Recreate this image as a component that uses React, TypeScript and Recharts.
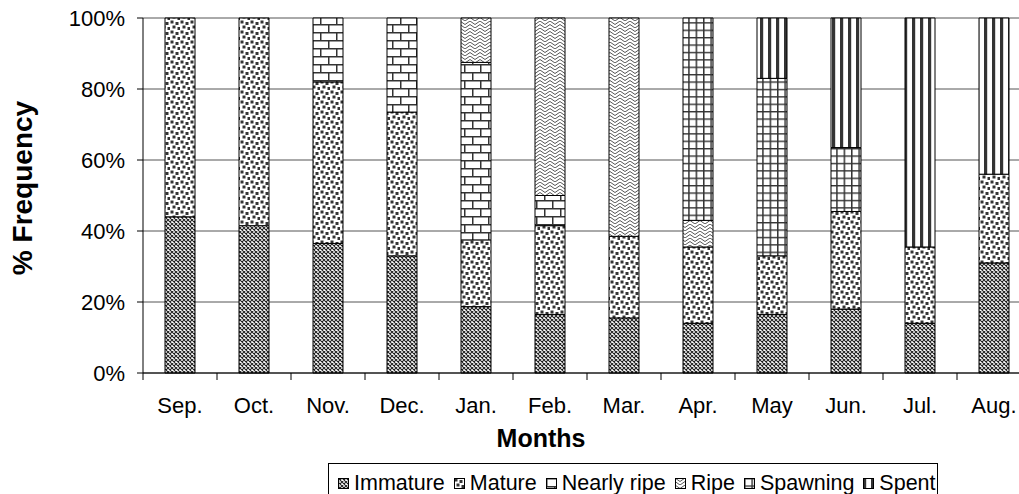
import React from "react";
import { BarChart, Bar, XAxis, YAxis, CartesianGrid, Label } from "recharts";

const months = ["Sep.", "Oct.", "Nov.", "Dec.", "Jan.", "Feb.", "Mar.", "Apr.", "May", "Jun.", "Jul.", "Aug."];
const immature = [44, 41.5, 36.5, 33, 18.7, 16.5, 15.5, 14, 16.5, 18, 14, 31];
const mature = [56, 58.5, 45.5, 40.5, 18.8, 25, 23, 21.5, 16.5, 27.5, 21.5, 25];
const nearlyRipe = [0, 0, 18, 26.5, 50, 8.5, 0, 0, 0, 0, 0, 0];
const ripe = [0, 0, 0, 0, 12.5, 50, 61.5, 7.5, 0, 0, 0, 0];
const spawning = [0, 0, 0, 0, 0, 0, 0, 57, 50, 18, 0, 0];
const spent = [0, 0, 0, 0, 0, 0, 0, 0, 17, 36.5, 64.5, 44];
const yTicks = [0, 20, 40, 60, 80, 100];

const stages = [
  { key: "immature", name: "Immature", fill: "url(#pImmature)" },
  { key: "mature", name: "Mature", fill: "url(#pMature)" },
  { key: "nearlyRipe", name: "Nearly ripe", fill: "url(#pNearly)" },
  { key: "ripe", name: "Ripe", fill: "url(#pRipe)" },
  { key: "spawning", name: "Spawning", fill: "url(#pSpawning)" },
  { key: "spent", name: "Spent", fill: "url(#pSpent)" },
];

const data = months.map((month, i) => ({
  month,
  immature: immature[i],
  mature: mature[i],
  nearlyRipe: nearlyRipe[i],
  ripe: ripe[i],
  spawning: spawning[i],
  spent: spent[i],
}));

const FONT = "'Liberation Sans', Arial, sans-serif";
const PLOT_W = 888;
const HALF_BAND = PLOT_W / months.length / 2;

const MonthTick = (props: any) => {
  const { x, y, payload, index } = props;
  return (
    <g>
      <line x1={x - HALF_BAND} x2={x - HALF_BAND} y1={y - 24} y2={y - 17} stroke="#000" />
      {index === months.length - 1 && (
        <line x1={x + HALF_BAND} x2={x + HALF_BAND} y1={y - 24} y2={y - 17} stroke="#000" />
      )}
      <text x={x} y={y} dy="0.71em" textAnchor="middle" fontSize={22} fontFamily={FONT} fill="#000">
        {payload.value}
      </text>
    </g>
  );
};

const Swatch = ({ fill }: { fill: string }) => (
  <svg width={11} height={11} style={{ display: "block" }}>
    <rect x={0.5} y={0.5} width={10} height={10} fill={fill} stroke="#000" />
  </svg>
);

export default function App() {
  return (
    <div
      style={{
        position: "absolute",
        left: 0,
        top: 0,
        width: 1019,
        height: 494,
        overflow: "hidden",
        background: "#fff",
      }}
    >
      <BarChart width={1040} height={494} data={data} margin={{ top: 18, right: 9, left: 0, bottom: 0 }}>
        <defs>
          <pattern id="pImmature" width="4" height="4" patternUnits="userSpaceOnUse">
            <rect width="4" height="4" fill="#fff" />
            <path d="M0 0L4 4M4 0L0 4" stroke="#222" strokeWidth="1.1" />
          </pattern>
          <pattern id="pMature" width="10" height="10" patternUnits="userSpaceOnUse">
            <rect width="10" height="10" fill="#fff" />
            <rect x="0.5" y="0.5" width="3" height="3" fill="#333" />
            <rect x="5.5" y="2" width="3" height="3" fill="#333" />
            <rect x="2.5" y="5.5" width="3" height="3" fill="#333" />
            <rect x="7.5" y="7" width="3" height="3" fill="#333" />
          </pattern>
          <pattern id="pNearly" width="16" height="16" patternUnits="userSpaceOnUse">
            <rect width="16" height="16" fill="#fff" />
            <path d="M0 0.75H16M0 8.75H16M0.75 0V8.75M8.75 8.75V16" stroke="#333" strokeWidth="1.5" />
          </pattern>
          <pattern id="pRipe" width="10" height="7" patternUnits="userSpaceOnUse">
            <rect width="10" height="7" fill="#fff" />
            <path d="M0 0L5 3.5L10 0M0 3.5L5 7L10 3.5" stroke="#555" strokeWidth="1" fill="none" />
          </pattern>
          <pattern id="pSpawning" width="7.4" height="7.4" patternUnits="userSpaceOnUse">
            <rect width="7.4" height="7.4" fill="#fff" />
            <path d="M0.75 0V7.4M0 0.75H7.4" stroke="#333" strokeWidth="1.5" />
          </pattern>
          <pattern id="pSpent" width="8" height="8" patternUnits="userSpaceOnUse">
            <rect width="8" height="8" fill="#fff" />
            <rect x="0" y="0" width="3.2" height="8" fill="#333" />
          </pattern>
        </defs>
        <CartesianGrid vertical={false} stroke="#555" />
        <XAxis
          dataKey="month"
          height={121}
          interval={0}
          tickSize={0}
          tickMargin={24}
          tick={<MonthTick />}
          axisLine={{ stroke: "#000" }}
        >
          <Label
            content={() => (
              <text x={541} y={447} textAnchor="middle" fontSize={25} fontWeight="bold" fontFamily={FONT} fill="#000">
                Months
              </text>
            )}
          />
        </XAxis>
        <YAxis
          width={143}
          domain={[0, 100]}
          ticks={yTicks}
          tickFormatter={(v: number) => `${v}%`}
          tickSize={6}
          tickMargin={12}
          tick={{ fontSize: 22, fontFamily: FONT, fill: "#000" }}
          axisLine={{ stroke: "#000" }}
          tickLine={{ stroke: "#000" }}
        >
          <Label
            content={() => (
              <text
                transform="translate(32,188) rotate(-90)"
                textAnchor="middle"
                fontSize={28}
                fontWeight="bold"
                fontFamily={FONT}
                fill="#000"
              >
                % Frequency
              </text>
            )}
          />
        </YAxis>
        {stages.map((s) => (
          <Bar
            key={s.key}
            dataKey={s.key}
            name={s.name}
            stackId="a"
            barSize={30}
            fill={s.fill}
            stroke="#000"
            strokeWidth={1}
            isAnimationActive={false}
          />
        ))}
      </BarChart>
      <div
        style={{
          position: "absolute",
          left: 328,
          top: 463,
          width: 610,
          height: 40,
          boxSizing: "border-box",
          border: "1px solid #000",
          paddingTop: 1,
          paddingLeft: 9,
          display: "flex",
          fontFamily: FONT,
          fontSize: 21.5,
          lineHeight: "21px",
          color: "#000",
          whiteSpace: "nowrap",
        }}
      >
        {stages.map((s) => (
          <div key={s.key} style={{ display: "flex", alignItems: "center", marginRight: 9 }}>
            <Swatch fill={s.fill} />
            <span style={{ marginLeft: 5 }}>{s.name}</span>
          </div>
        ))}
      </div>
    </div>
  );
}
